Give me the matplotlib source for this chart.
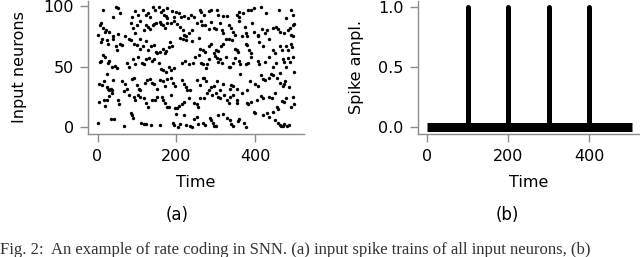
import matplotlib
matplotlib.use("Agg")
import matplotlib.pyplot as plt

# (a) input spikes: time step and index of the input neuron that fired
spike_t = [14, 48, 51, 58, 40, 88, 95, 102, 116, 123, 129, 133, 142, 145, 156, 160, 165, 169, 173, 176,
           176, 189, 194, 199, 208, 212, 220, 229, 238, 244, 259, 262, 271, 284, 288, 303, 306, 318, 329, 354,
           360, 368, 381, 389, 396, 416, 427, 460, 492, 495, 479, 359,
           5, 8, 14, 18, 21, 29, 40, 52, 69, 85, 89, 95, 100, 109, 119, 123, 127, 134, 141, 144,
           149, 158, 161, 165, 170, 176, 186, 193, 202, 210, 217, 220, 224, 232, 241, 252, 263, 266, 274, 282,
           288, 295, 301, 311, 315, 318, 333, 339, 344, 349, 359, 373, 376, 380, 393, 398, 406, 417, 425, 430,
           446, 452, 457, 462, 473, 484, 489, 495, 499, 492,
           1, 8, 12, 23, 27, 40, 46, 50, 57, 63, 79, 86, 92, 101, 107, 109, 115, 122, 127, 136,
           143, 148, 151, 158, 165, 171, 175, 181, 185, 189, 210, 217, 225, 241, 257, 261, 268, 272, 282, 288,
           295, 301, 307, 313, 318, 327, 334, 341, 349, 354, 357, 367, 376, 379, 385, 389, 406, 411, 421, 435,
           446, 451, 462, 468, 479, 483, 490, 493, 497,
           10, 7, 13, 20, 26, 29, 37, 45, 50, 75, 79, 89, 94, 103, 112, 119, 123, 131, 137, 143,
           156, 162, 166, 174, 181, 187, 194, 215, 223, 231, 242, 248, 257, 263, 268, 276, 279, 284, 297, 303,
           306, 311, 317, 325, 333, 337, 343, 349, 358, 362, 376, 381, 389, 408, 411, 424, 436, 446, 452, 462,
           470, 473, 479, 483, 488, 497, 499,
           4, 12, 16, 23, 26, 30, 33, 37, 23, 40, 62, 69, 75, 87, 92, 99, 105, 109, 120, 126,
           132, 139, 143, 151, 158, 167, 172, 176, 187, 192, 197, 215, 219, 224, 227, 235, 252, 261, 268, 271,
           276, 283, 288, 295, 302, 311, 318, 335, 338, 344, 354, 362, 379, 386, 400, 406, 414, 419, 425, 436,
           440, 446, 455, 463, 470, 473, 476, 487,
           4, 17, 19, 24, 30, 37, 51, 55, 68, 81, 92, 96, 102, 109, 117, 122, 129, 138, 147, 151,
           163, 166, 172, 176, 182, 187, 196, 202, 206, 214, 219, 231, 246, 252, 255, 261, 271, 279, 291, 300,
           305, 312, 322, 328, 333, 337, 345, 354, 355, 366, 379, 383, 389, 405, 414, 421, 434, 442, 451, 455,
           459, 468, 473, 479, 490, 495, 499,
           2, 33, 41, 68, 84, 88, 90, 111, 119, 123, 135, 159, 192, 194, 199, 205, 210, 220, 224, 234,
           239, 246, 252, 254, 268, 273, 285, 289, 293, 295, 300, 306, 318, 328, 337, 339, 345, 356, 360, 371,
           376, 396, 400, 421, 430, 435, 445, 451, 457, 462, 466, 470, 474, 480, 485]
spike_n = [97, 99, 98, 94, 91, 91, 96, 93, 97, 93, 94, 91, 99, 97, 99, 95, 97, 93, 92, 98,
           90, 96, 91, 95, 94, 91, 92, 90, 93, 91, 97, 95, 93, 96, 97, 97, 93, 92, 92, 93,
           95, 94, 97, 97, 98, 99, 94, 97, 97, 93, 90, 91,
           84, 86, 82, 79, 80, 79, 75, 77, 75, 86, 82, 78, 84, 88, 80, 84, 83, 81, 84, 85,
           86, 87, 85, 84, 82, 86, 86, 88, 85, 83, 80, 76, 75, 78, 80, 86, 88, 84, 84, 81,
           87, 82, 81, 86, 80, 78, 84, 82, 79, 76, 88, 83, 78, 75, 86, 79, 76, 81, 78, 80,
           82, 83, 81, 79, 78, 80, 82, 84, 85, 76,
           76, 70, 73, 72, 69, 73, 67, 64, 69, 68, 73, 72, 69, 68, 73, 65, 67, 71, 64, 67,
           68, 62, 61, 62, 65, 61, 63, 66, 70, 67, 74, 73, 72, 71, 74, 65, 64, 62, 67, 69,
           61, 64, 63, 67, 69, 73, 73, 72, 65, 64, 62, 75, 69, 68, 64, 61, 75, 70, 67, 73,
           64, 61, 67, 64, 67, 64, 69, 66, 75,
           55, 54, 60, 58, 53, 55, 50, 51, 49, 53, 50, 56, 52, 58, 53, 52, 56, 57, 55, 56,
           53, 48, 47, 46, 50, 47, 49, 53, 55, 52, 53, 58, 60, 53, 52, 49, 52, 56, 59, 57,
           54, 56, 53, 58, 50, 50, 53, 57, 55, 52, 52, 53, 58, 55, 52, 54, 58, 50, 53, 45,
           56, 54, 50, 57, 54, 58, 46,
           36, 35, 38, 33, 32, 31, 32, 31, 44, 39, 38, 36, 32, 40, 41, 35, 32, 31, 37, 39,
           40, 37, 36, 32, 39, 38, 34, 40, 41, 37, 34, 39, 36, 33, 31, 31, 39, 35, 41, 41,
           38, 31, 33, 34, 38, 31, 36, 32, 35, 34, 32, 44, 31, 38, 36, 34, 43, 40, 39, 41,
           44, 43, 41, 37, 34, 36, 38, 33,
           21, 23, 18, 23, 26, 28, 23, 19, 30, 27, 25, 23, 27, 25, 24, 20, 17, 23, 23, 25,
           25, 23, 20, 17, 17, 27, 16, 16, 18, 19, 21, 24, 20, 19, 17, 24, 24, 28, 27, 28,
           25, 24, 27, 23, 20, 25, 27, 23, 20, 28, 20, 19, 21, 23, 26, 24, 25, 24, 28, 17,
           15, 22, 21, 24, 17, 25, 19,
           4, 7, 7, 1, 12, 10, 8, 4, 3, 3, 2, 2, 4, 2, 11, 0, 3, 10, 2, 1,
           0, 7, 9, 3, 4, 2, 8, 6, 4, 1, 1, 10, 11, 8, 6, 3, 1, 5, 7, 4,
           0, 13, 12, 10, 12, 9, 13, 6, 4, 2, 1, 1, 3, 1, 2]

# (b) output spike train
out_spikes = [100, 200, 300, 400]
out_ampl = [1.0, 1.0, 1.0, 1.0]
t_end = 505

grey = "#8c8c8c"
plt.rcParams["font.family"] = "DejaVu Sans"
plt.rcParams["font.size"] = 11.5

fig = plt.figure(figsize=(6.4, 2.57), dpi=100)
ax1 = fig.add_axes([0.137, 0.4805, 0.338, 0.5148])
ax2 = fig.add_axes([0.6527, 0.4805, 0.3473, 0.5148])

ax1.scatter(spike_t, spike_n, s=6, c="black", linewidths=0)
ax1.set_xlim(-25, 524)
ax1.set_ylim(-4.95, 103.95)
ax1.set_xticks([0, 200, 400])
ax1.set_yticks([0, 50, 100])
ax1.set_xlabel("Time", labelpad=8)
ax1.set_ylabel("Input neurons", labelpad=12)

ax2.hlines(0, 0, t_end, color="black", lw=6.5, capstyle="butt")
ax2.vlines(out_spikes, 0, out_ampl, color="black", lw=3.6, capstyle="round")
ax2.set_xlim(-24, 526)
ax2.set_ylim(-0.05, 1.05)
ax2.set_xticks([0, 200, 400])
ax2.set_yticks([0.0, 0.5, 1.0])
ax2.set_xlabel("Time", labelpad=8)
ax2.set_ylabel("Spike ampl.", labelpad=10)

for ax in (ax1, ax2):
    for side in ("top", "right"):
        ax.spines[side].set_visible(False)
    for side in ("left", "bottom"):
        ax.spines[side].set_color(grey)
        ax.spines[side].set_linewidth(1.0)
    ax.tick_params(length=6, width=1.0, color=grey)
    ax.tick_params(axis="x", pad=5)
    ax.tick_params(axis="y", pad=4)

fig.text(177 / 640, 1 - 215 / 257, "(a)", ha="center", va="center", fontsize=12)
fig.text(507 / 640, 1 - 215 / 257, "(b)", ha="center", va="center", fontsize=12)
fig.text(0.0, 1 - 242 / 257,
         "Fig. 2:  An example of rate coding in SNN. (a) input spike trains of all input neurons, (b)",
         ha="left", va="top", fontsize=12, family="Liberation Serif", color="#333333")

fig.savefig("out.png", dpi=100)
